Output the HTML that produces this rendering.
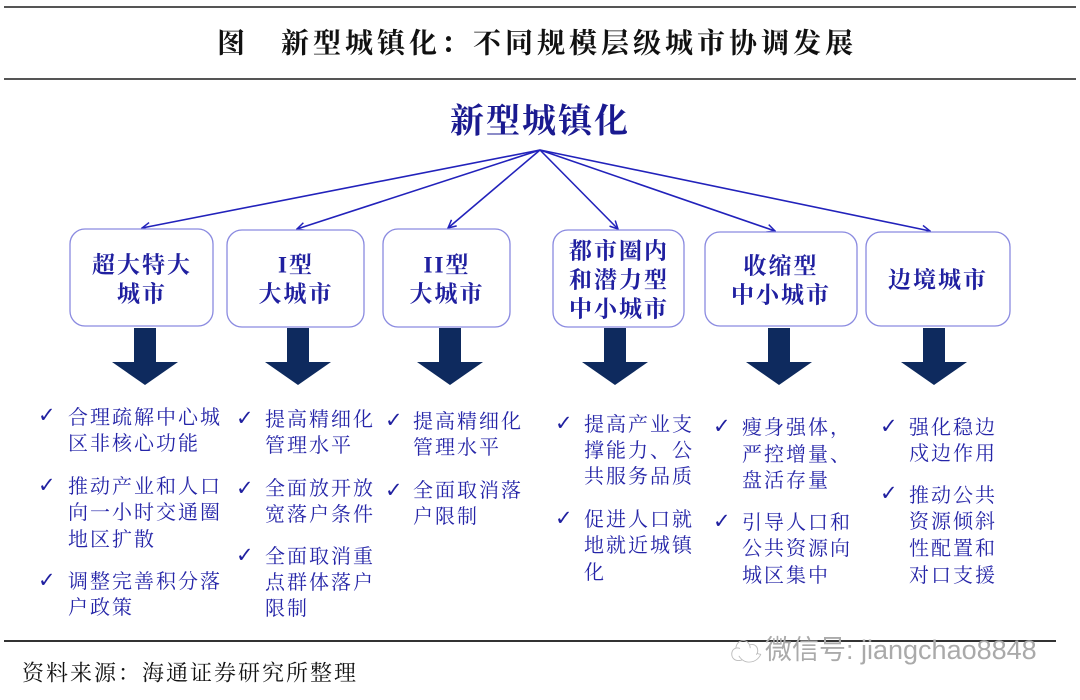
<!DOCTYPE html>
<html><head><meta charset="utf-8"><style>
html,body{margin:0;padding:0;background:#fff;}
svg{display:block;}
text{font-family:"Liberation Serif","Noto Serif CJK SC","Noto Sans CJK SC",serif;}
.b{fill:#2525a8;font-size:20px;letter-spacing:2px;dominant-baseline:central;}
.h{fill:#2020a0;font-size:23px;font-weight:bold;dominant-baseline:central;text-anchor:middle;letter-spacing:2px;}
.c{fill:#2020a0;font-size:21px;font-weight:bold;dominant-baseline:central;font-family:"DejaVu Sans",sans-serif;}
</style></head><body>
<svg width="1080" height="700" viewBox="0 0 1080 700" xmlns="http://www.w3.org/2000/svg">
<defs><marker id="m" markerWidth="10" markerHeight="10" refX="9" refY="5" orient="auto" markerUnits="userSpaceOnUse"><path d="M1,1 L9,5 L1,9" fill="none" stroke="#2222bb" stroke-width="1.5"/></marker></defs>
<line x1="4" y1="7" x2="1076" y2="7" stroke="#555" stroke-width="2"/>
<line x1="4" y1="79" x2="1076" y2="79" stroke="#555" stroke-width="2"/>
<text x="537" y="44" text-anchor="middle" dominant-baseline="central" font-size="28" font-weight="bold" fill="#111" style="letter-spacing:4px">图　新型城镇化：不同规模层级城市协调发展</text>
<text x="540" y="122" text-anchor="middle" dominant-baseline="central" font-size="34" font-weight="bold" fill="#1a1a90" style="letter-spacing:2px">新型城镇化</text>
<g stroke="#2222bb" stroke-width="1.6" marker-end="url(#m)">
<line x1="540" y1="150" x2="142" y2="228"/>
<line x1="540" y1="150" x2="297" y2="229"/>
<line x1="540" y1="150" x2="448" y2="228"/>
<line x1="540" y1="150" x2="618" y2="229"/>
<line x1="540" y1="150" x2="775" y2="231"/>
<line x1="540" y1="150" x2="930" y2="231"/>
</g>
<g fill="#fff" stroke="#8a8ae0" stroke-width="1.3">
<rect x="70" y="229" width="143" height="97" rx="15"/>
<rect x="227" y="230" width="137" height="97" rx="15"/>
<rect x="383" y="229" width="127" height="98" rx="15"/>
<rect x="553" y="230" width="131" height="97" rx="15"/>
<rect x="705" y="232" width="152" height="94" rx="15"/>
<rect x="866" y="232" width="144" height="94" rx="15"/>
</g>
<text class="h" x="142" y="265">超大特大</text><text class="h" x="142" y="294">城市</text>
<text class="h" x="296" y="265">I型</text><text class="h" x="296" y="294">大城市</text>
<text class="h" x="447" y="265">II型</text><text class="h" x="447" y="294">大城市</text>
<text class="h" x="619" y="251">都市圈内</text><text class="h" x="619" y="280">和潜力型</text><text class="h" x="619" y="309">中小城市</text>
<text class="h" x="781" y="266">收缩型</text><text class="h" x="781" y="295">中小城市</text>
<text class="h" x="938" y="280">边境城市</text>
<g fill="#0e2a5e">
<path d="M134,328h22v34h22l-33,23l-33,-23h22z"/>
<path d="M134,328h22v34h22l-33,23l-33,-23h22z" transform="translate(153,0)"/>
<path d="M134,328h22v34h22l-33,23l-33,-23h22z" transform="translate(305,0)"/>
<path d="M134,328h22v34h22l-33,23l-33,-23h22z" transform="translate(470,0)"/>
<path d="M134,328h22v34h22l-33,23l-33,-23h22z" transform="translate(634,0)"/>
<path d="M134,328h22v34h22l-33,23l-33,-23h22z" transform="translate(789,0)"/>
</g>
<text class="c" x="38" y="415">✓</text>
<text class="b" x="68" y="418">合理疏解中心城</text><text class="b" x="68" y="444">区非核心功能</text>
<text class="c" x="38" y="485">✓</text>
<text class="b" x="68" y="487">推动产业和人口</text><text class="b" x="68" y="513">向一小时交通圈</text><text class="b" x="68" y="540">地区扩散</text>
<text class="c" x="38" y="580">✓</text>
<text class="b" x="68" y="582">调整完善积分落</text><text class="b" x="68" y="608">户政策</text>
<text class="c" x="236" y="418">✓</text>
<text class="b" x="265" y="420">提高精细化</text><text class="b" x="265" y="446">管理水平</text>
<text class="c" x="236" y="488">✓</text>
<text class="b" x="265" y="489">全面放开放</text><text class="b" x="265" y="515">宽落户条件</text>
<text class="c" x="236" y="555">✓</text>
<text class="b" x="265" y="557">全面取消重</text><text class="b" x="265" y="583">点群体落户</text><text class="b" x="265" y="609">限制</text>
<text class="c" x="385" y="420">✓</text>
<text class="b" x="413" y="422">提高精细化</text><text class="b" x="413" y="448">管理水平</text>
<text class="c" x="385" y="490">✓</text>
<text class="b" x="413" y="491">全面取消落</text><text class="b" x="413" y="517">户限制</text>
<text class="c" x="555" y="423">✓</text>
<text class="b" x="584" y="425">提高产业支</text><text class="b" x="584" y="451">撑能力、公</text><text class="b" x="584" y="477">共服务品质</text>
<text class="c" x="555" y="518">✓</text>
<text class="b" x="584" y="520">促进人口就</text><text class="b" x="584" y="546">地就近城镇</text><text class="b" x="584" y="573">化</text>
<text class="c" x="713" y="426">✓</text>
<text class="b" x="742" y="428">瘦身强体，</text><text class="b" x="742" y="455">严控增量、</text><text class="b" x="742" y="481">盘活存量</text>
<text class="c" x="713" y="521">✓</text>
<text class="b" x="742" y="523">引导人口和</text><text class="b" x="742" y="549">公共资源向</text><text class="b" x="742" y="576">城区集中</text>
<text class="c" x="880" y="426">✓</text>
<text class="b" x="909" y="428">强化稳边</text><text class="b" x="909" y="454">戍边作用</text>
<text class="c" x="880" y="493">✓</text>
<text class="b" x="909" y="496">推动公共</text><text class="b" x="909" y="522">资源倾斜</text><text class="b" x="909" y="549">性配置和</text><text class="b" x="909" y="576">对口支援</text>
<line x1="4" y1="641" x2="1056" y2="641" stroke="#333" stroke-width="2"/>
<text x="730" y="652" font-size="32" fill="#bbb" dominant-baseline="central" font-family="DejaVu Sans,sans-serif">☁</text>
<text x="765" y="650" font-size="27" fill="#aaa" dominant-baseline="central" style="font-family:'Liberation Sans','Noto Sans CJK SC',sans-serif">微信号: jiangchao8848</text>
<text x="22" y="673" font-size="22" fill="#111" dominant-baseline="central" style="letter-spacing:2px">资料来源：海通证券研究所整理</text>
</svg>
</body></html>
